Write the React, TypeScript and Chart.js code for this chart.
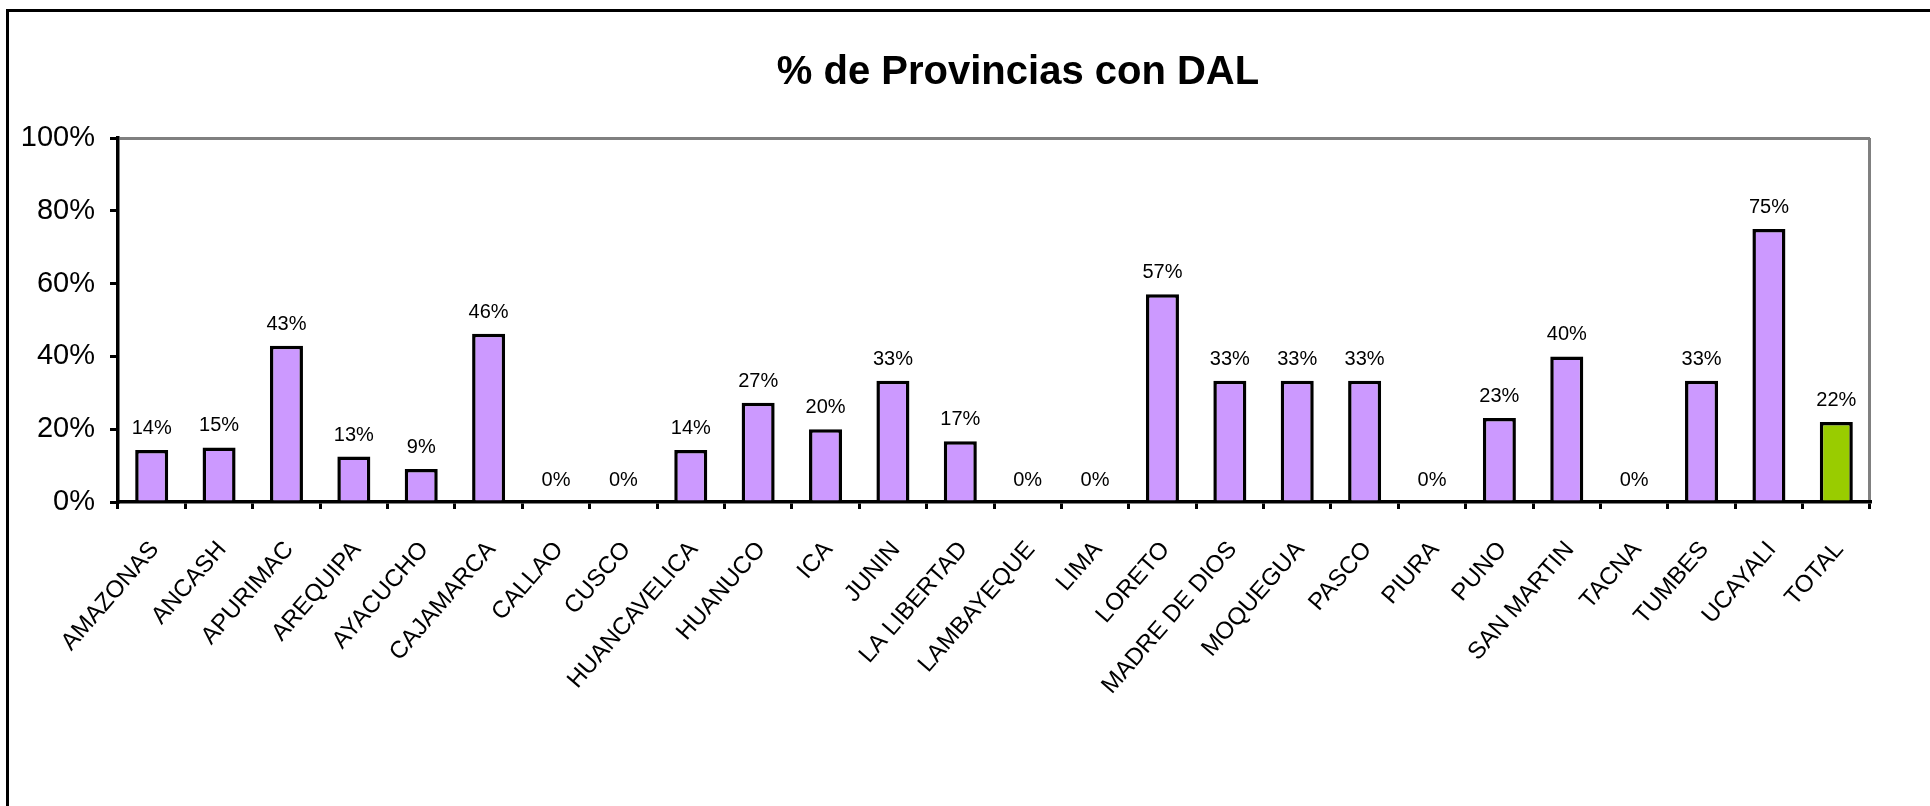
import React, { useEffect, useRef } from "react";
import { Chart, registerables } from "chart.js";

Chart.register(...registerables);

const TITLE = "% de Provincias con DAL";

const categories: string[] = [
  "AMAZONAS", "ANCASH", "APURIMAC", "AREQUIPA", "AYACUCHO", "CAJAMARCA",
  "CALLAO", "CUSCO", "HUANCAVELICA", "HUANUCO", "ICA", "JUNIN",
  "LA LIBERTAD", "LAMBAYEQUE", "LIMA", "LORETO", "MADRE DE DIOS", "MOQUEGUA",
  "PASCO", "PIURA", "PUNO", "SAN MARTIN", "TACNA", "TUMBES", "UCAYALI", "TOTAL",
];

// percent of provinces with DAL
const values: number[] = [
  14.3, 15.0, 42.9, 12.5, 9.1, 46.2,
  0, 0, 14.3, 27.3, 20.0, 33.3,
  16.7, 0, 0, 57.1, 33.3, 33.3,
  33.3, 0, 23.1, 40.0, 0, 33.3, 75.0, 22.0,
];

const yTicks: number[] = [0, 20, 40, 60, 80, 100];

const PURPLE = "#CC99FF";
const GREEN = "#99CC00";
const FONT = "'Liberation Sans', Arial, Helvetica, sans-serif";

export default function App() {
  const canvasRef = useRef<HTMLCanvasElement | null>(null);

  useEffect(() => {
    const canvas = canvasRef.current;
    if (!canvas) return;

    const barLabels = {
      id: "barLabels",
      afterDatasetsDraw(chart: any) {
        const { ctx } = chart;
        const meta = chart.getDatasetMeta(0);
        ctx.save();
        ctx.font = `20px ${FONT}`;
        ctx.fillStyle = "#000";
        ctx.textAlign = "center";
        ctx.textBaseline = "alphabetic";
        meta.data.forEach((bar: any, i: number) => {
          const v = chart.data.datasets[0].data[i] as number;
          ctx.fillText(`${Math.round(v)}%`, bar.x, bar.y - 16);
        });
        ctx.restore();
      },
    };

    const titlePlugin = {
      id: "titleText",
      afterDraw(chart: any) {
        const { ctx } = chart;
        ctx.save();
        ctx.font = `bold 40px ${FONT}`;
        ctx.fillStyle = "#000";
        ctx.textAlign = "center";
        ctx.textBaseline = "alphabetic";
        ctx.fillText(TITLE, 1018, 84);
        ctx.restore();
      },
    };

    const chart = new Chart(canvas, {
      type: "bar",
      data: {
        labels: categories,
        datasets: [
          {
            data: values,
            backgroundColor: categories.map((c) => (c === "TOTAL" ? GREEN : PURPLE)),
            borderColor: "#000",
            borderWidth: 3.5,
            borderSkipped: "start",
            barPercentage: 0.49,
            categoryPercentage: 1,
          },
        ],
      },
      options: {
        responsive: false,
        animation: false,
        devicePixelRatio: 1,
        layout: { padding: { top: 138, left: 0, right: 60, bottom: 0 } },
        plugins: {
          legend: { display: false },
          title: { display: false },
          tooltip: { enabled: false },
        },
        scales: {
          x: {
            type: "category",
            offset: true,
            afterFit: (s: any) => {
              s.height = 304;
            },
            grid: {
              offset: true,
              drawOnChartArea: true,
              color: (c: any) => (c.type === "scale" ? "#808080" : "rgba(0,0,0,0)"),
              lineWidth: 3,
              tickColor: "#000",
              tickWidth: 3,
              tickLength: 7,
            },
            border: { display: true, color: "#000", width: 3.5 },
            ticks: {
              autoSkip: false,
              maxRotation: 49,
              minRotation: 49,
              padding: 27,
              labelOffset: 3,
              color: "#000",
              font: { family: FONT, size: 24 },
            },
          },
          y: {
            min: 0,
            max: 100,
            afterFit: (s: any) => {
              s.width = 118;
            },
            afterBuildTicks: (s: any) => {
              s.ticks = yTicks.map((v) => ({ value: v }));
            },
            grid: {
              color: (c: any) =>
                c.tick && c.tick.value === 100 ? "#808080" : "rgba(0,0,0,0)",
              lineWidth: 3,
              tickColor: "#000",
              tickWidth: 3,
              tickLength: 8,
            },
            border: { display: true, color: "#000", width: 3.5 },
            ticks: {
              padding: 15,
              color: "#000",
              font: { family: FONT, size: 29 },
              callback: (v: any) => `${v}%`,
            },
          },
        },
      },
      plugins: [barLabels, titlePlugin],
    });

    return () => chart.destroy();
  }, []);

  return (
    <div
      style={{
        position: "fixed",
        left: 0,
        top: 0,
        width: 1930,
        height: 806,
        overflow: "hidden",
        background: "#fff",
      }}
    >
      <div
        style={{
          position: "absolute",
          left: 6,
          top: 9,
          width: 2100,
          height: 900,
          border: "3px solid #000",
          boxSizing: "border-box",
        }}
      />
      <canvas
        ref={canvasRef}
        width={1930}
        height={806}
        style={{ position: "absolute", left: 0, top: 0 }}
      />
    </div>
  );
}
